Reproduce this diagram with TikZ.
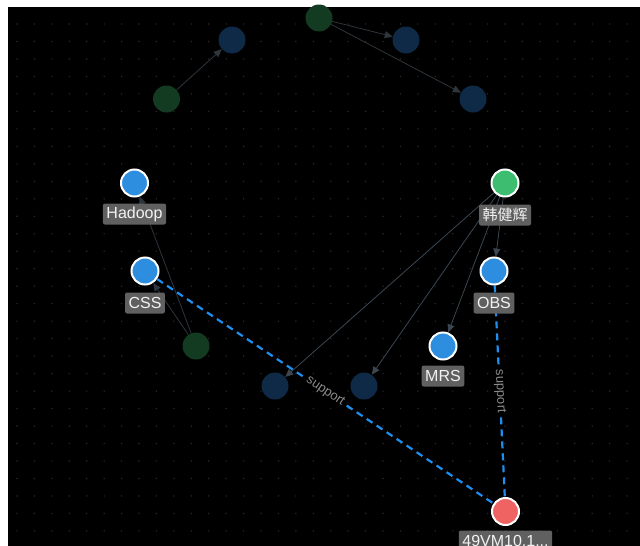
\documentclass[tikz,border=0pt]{standalone}
\usepackage{fontspec}
\setmainfont{Liberation Sans}
\newfontfamily\cjk{Noto Sans CJK SC}
\usetikzlibrary{arrows.meta}
\pgfdeclarelayer{gridl}
\pgfdeclarelayer{edgel}
\pgfsetlayers{gridl,edgel,main}
\definecolor{nblue}{HTML}{2D8EE0}
\definecolor{ngreen}{HTML}{3DBD6F}
\definecolor{nred}{HTML}{EF6363}
\definecolor{dblue}{HTML}{0E2A47}
\definecolor{dgreen}{HTML}{133B22}
\definecolor{labg}{HTML}{606060}
\definecolor{labt}{HTML}{F2F2F2}
\definecolor{edgec}{HTML}{3B4651}
\definecolor{dimedgec}{HTML}{2E353D}
\definecolor{supc}{HTML}{1F8FEF}
\definecolor{suptext}{HTML}{8A8A8A}
\definecolor{dotc}{HTML}{2A2A2A}
\tikzset{
  hnode/.style={circle, draw=white, line width=2pt, minimum size=27pt, inner sep=0pt},
  dnode/.style={circle, minimum size=27pt, inner sep=0pt},
  lab/.style={fill=labg, rounded corners=2pt, text=labt, font=\fontsize{16}{16}\selectfont,
    inner xsep=3.5pt, inner ysep=3pt, minimum height=21pt},
  edgeline/.style={draw=edgec, line width=0.8pt, -{Triangle[length=8pt,width=7pt]}},
  dimedge/.style={draw=dimedgec, line width=0.8pt, -{Triangle[length=8pt,width=7pt]}},
  supline/.style={draw=supc, line width=2.2pt, dash pattern=on 7pt off 5pt},
  suplab/.style={fill=black, text=suptext, font=\fontsize{13}{13}\selectfont, inner sep=1pt, sloped}
}
\begin{document}
\begin{tikzpicture}[x=1pt,y=-1pt]
\useasboundingbox (0,0) rectangle (640,546);
\clip (0,0) rectangle (640,546);
\begin{pgfonlayer}{gridl}
\fill[white] (0,0) rectangle (640,546);
\fill[black] (8,7) rectangle (640,546);
\foreach \i in {0,...,35} {
  \foreach \j in {0,...,29} {
    \fill[dotc] ({17+\i*17.43},{24+\j*17.48}) circle (0.8pt);
  }
}
\end{pgfonlayer}

% dim nodes
\node[dnode, fill=dgreen] (dgtop) at (319,18) {};
\node[dnode, fill=dblue] (db1) at (232,40) {};
\node[dnode, fill=dblue] (db2) at (406,40) {};
\node[dnode, fill=dgreen] (dg1) at (166.5,99) {};
\node[dnode, fill=dblue] (db3) at (473,99) {};
\node[dnode, fill=dgreen] (dg2) at (196,346) {};
\node[dnode, fill=dblue] (db4) at (275,386) {};
\node[dnode, fill=dblue] (db5) at (364,386) {};

% highlighted nodes
\node[hnode, fill=nblue] (hadoop) at (134.5,183) {};
\node[lab] (hadoopL) at (134.5,214) {Hadoop};
\node[hnode, fill=nblue] (css) at (145,271) {};
\node[lab] (cssL) at (145,303) {CSS};
\node[hnode, fill=ngreen] (han) at (505,183) {};
\node[lab, font=\cjk\fontsize{15}{15}\selectfont] (hanL) at (505,215) {韩健辉};
\node[hnode, fill=nblue] (obs) at (494,271) {};
\node[lab] (obsL) at (494,303) {OBS};
\node[hnode, fill=nblue] (mrs) at (443,346) {};
\node[lab] (mrsL) at (443,376) {MRS};
\node[hnode, fill=nred] (red) at (505.5,511.5) {};
\node[lab] (redL) at (505.5,541) {49VM10.1...};

\begin{pgfonlayer}{edgel}
\draw[dimedge] (dg1) -- (db1);
\draw[dimedge] (dgtop) -- (db2);
\draw[dimedge] (dgtop) -- (db3);
\draw[dimedge] (dg2) -- (hadoop);
\draw[dimedge] (dg2) -- (css);
\draw[edgeline] (han.center) -- (obs);
\draw[edgeline] (han.center) -- (mrs);
\draw[edgeline] (han.center) -- (db4);
\draw[edgeline] (han.center) -- (db5);
\draw[supline] (css) -- node[suplab] {support} (red);
\draw[supline] (obs) -- node[suplab] {support} (red);
\end{pgfonlayer}
\end{tikzpicture}
\end{document}
